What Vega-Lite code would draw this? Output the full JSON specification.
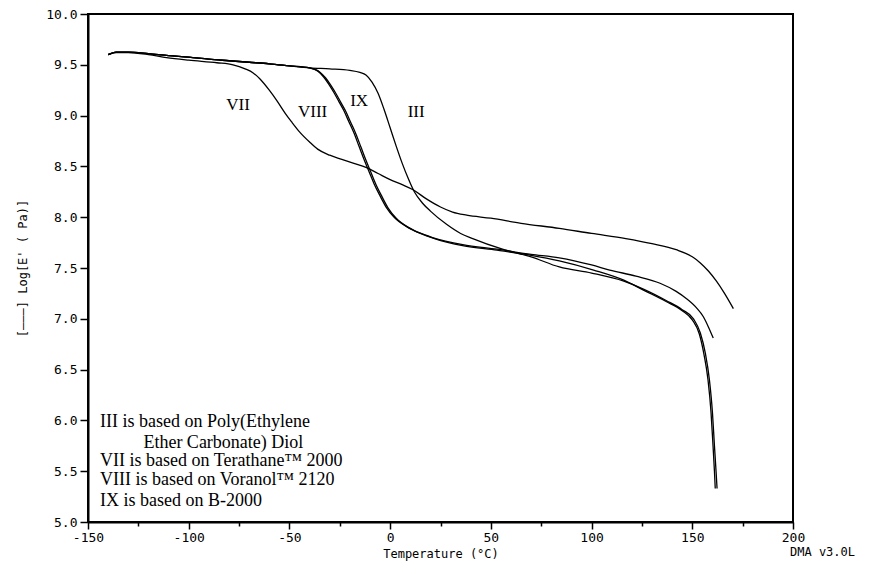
{
  "$schema": "https://vega.github.io/schema/vega-lite/v6.json",
  "width": 705,
  "height": 508,
  "autosize": {"type": "none"},
  "padding": {"left": 88, "top": 14, "right": 86, "bottom": 44},
  "background": "white",
  "config": {
    "view": {"stroke": "black", "strokeWidth": 2},
    "axis": {
      "domainColor": "black", "domainWidth": 2, "tickColor": "black", "tickWidth": 1.5,
      "labelColor": "black", "titleColor": "black", "grid": false,
      "labelFont": "DejaVu Sans Mono", "titleFont": "DejaVu Sans Mono",
      "labelFontSize": 13, "titleFontSize": 12, "titleFontWeight": "normal"
    }
  },
  "datasets": {
    "curves": [
      {"s":"III","t":-140,"v":9.60},{"s":"III","t":-136,"v":9.625},{"s":"III","t":-130,"v":9.625},{"s":"III","t":-120,"v":9.61},{"s":"III","t":-110,"v":9.59},{"s":"III","t":-100,"v":9.575},{"s":"III","t":-90,"v":9.555},{"s":"III","t":-80,"v":9.54},{"s":"III","t":-70,"v":9.525},{"s":"III","t":-60,"v":9.51},{"s":"III","t":-50,"v":9.49},{"s":"III","t":-40,"v":9.47},
      {"s":"III","t":-30,"v":9.46},{"s":"III","t":-20,"v":9.445},{"s":"III","t":-15,"v":9.425},{"s":"III","t":-12,"v":9.40},{"s":"III","t":-9,"v":9.33},{"s":"III","t":-6,"v":9.22},{"s":"III","t":-3,"v":9.06},{"s":"III","t":0,"v":8.88},{"s":"III","t":3,"v":8.70},{"s":"III","t":6,"v":8.53},{"s":"III","t":9,"v":8.38},{"s":"III","t":12,"v":8.25},{"s":"III","t":16,"v":8.14},{"s":"III","t":20,"v":8.06},{"s":"III","t":28,"v":7.93},{"s":"III","t":35,"v":7.84},{"s":"III","t":41,"v":7.79},{"s":"III","t":55,"v":7.69},{"s":"III","t":70,"v":7.61},{"s":"III","t":84,"v":7.51},{"s":"III","t":100,"v":7.45},{"s":"III","t":116,"v":7.37},{"s":"III","t":126,"v":7.29},{"s":"III","t":137,"v":7.18},{"s":"III","t":145,"v":7.09},{"s":"III","t":150.6,"v":7.00},{"s":"III","t":154,"v":6.86},{"s":"III","t":156.5,"v":6.66},{"s":"III","t":158.5,"v":6.40},{"s":"III","t":160,"v":6.08},{"s":"III","t":161,"v":5.75},{"s":"III","t":161.8,"v":5.50},{"s":"III","t":162.3,"v":5.33},

      {"s":"VII","t":-140,"v":9.60},{"s":"VII","t":-136,"v":9.62},{"s":"VII","t":-130,"v":9.62},{"s":"VII","t":-120,"v":9.60},{"s":"VII","t":-111,"v":9.57},{"s":"VII","t":-100,"v":9.545},{"s":"VII","t":-86,"v":9.52},{"s":"VII","t":-78,"v":9.50},{"s":"VII","t":-72,"v":9.46},{"s":"VII","t":-68,"v":9.42},{"s":"VII","t":-64.6,"v":9.36},{"s":"VII","t":-60,"v":9.25},{"s":"VII","t":-56,"v":9.14},{"s":"VII","t":-52,"v":9.02},{"s":"VII","t":-49,"v":8.94},{"s":"VII","t":-45,"v":8.84},{"s":"VII","t":-40,"v":8.74},{"s":"VII","t":-36,"v":8.67},{"s":"VII","t":-30,"v":8.61},{"s":"VII","t":-24,"v":8.57},{"s":"VII","t":-18,"v":8.53},{"s":"VII","t":-12,"v":8.49},{"s":"VII","t":-6,"v":8.43},{"s":"VII","t":0,"v":8.37},{"s":"VII","t":6,"v":8.32},{"s":"VII","t":11.4,"v":8.27},{"s":"VII","t":18,"v":8.18},{"s":"VII","t":25,"v":8.10},{"s":"VII","t":31,"v":8.05},{"s":"VII","t":38,"v":8.02},{"s":"VII","t":50,"v":7.99},{"s":"VII","t":65,"v":7.94},{"s":"VII","t":84,"v":7.89},{"s":"VII","t":100,"v":7.84},{"s":"VII","t":117,"v":7.79},{"s":"VII","t":130,"v":7.74},{"s":"VII","t":142,"v":7.68},{"s":"VII","t":150,"v":7.61},{"s":"VII","t":154,"v":7.55},{"s":"VII","t":158,"v":7.47},{"s":"VII","t":162,"v":7.37},{"s":"VII","t":166,"v":7.25},{"s":"VII","t":170.4,"v":7.10},

      {"s":"VIII","t":-140,"v":9.60},{"s":"VIII","t":-136,"v":9.625},{"s":"VIII","t":-130,"v":9.625},{"s":"VIII","t":-120,"v":9.61},{"s":"VIII","t":-110,"v":9.59},{"s":"VIII","t":-100,"v":9.575},{"s":"VIII","t":-90,"v":9.555},{"s":"VIII","t":-80,"v":9.54},{"s":"VIII","t":-70,"v":9.525},{"s":"VIII","t":-60,"v":9.51},{"s":"VIII","t":-50,"v":9.49},{"s":"VIII","t":-40,"v":9.47},
      {"s":"VIII","t":-36,"v":9.44},{"s":"VIII","t":-33,"v":9.38},{"s":"VIII","t":-30.5,"v":9.31},{"s":"VIII","t":-28,"v":9.23},{"s":"VIII","t":-25.5,"v":9.14},{"s":"VIII","t":-23,"v":9.05},{"s":"VIII","t":-20.5,"v":8.94},{"s":"VIII","t":-18,"v":8.83},{"s":"VIII","t":-15.5,"v":8.70},{"s":"VIII","t":-13,"v":8.57},{"s":"VIII","t":-10.5,"v":8.45},{"s":"VIII","t":-8,"v":8.33},{"s":"VIII","t":-5,"v":8.21},{"s":"VIII","t":-2,"v":8.10},{"s":"VIII","t":2,"v":8.00},{"s":"VIII","t":8,"v":7.91},{"s":"VIII","t":14,"v":7.85},{"s":"VIII","t":21,"v":7.80},{"s":"VIII","t":36,"v":7.73},{"s":"VIII","t":53,"v":7.685},{"s":"VIII","t":70,"v":7.635},{"s":"VIII","t":84,"v":7.60},{"s":"VIII","t":100,"v":7.53},{"s":"VIII","t":109,"v":7.48},{"s":"VIII","t":122,"v":7.42},{"s":"VIII","t":134,"v":7.35},{"s":"VIII","t":142,"v":7.27},{"s":"VIII","t":147,"v":7.20},{"s":"VIII","t":152,"v":7.11},{"s":"VIII","t":155.5,"v":7.02},{"s":"VIII","t":158,"v":6.92},{"s":"VIII","t":160.4,"v":6.81},

      {"s":"IX","t":-140,"v":9.60},{"s":"IX","t":-136,"v":9.625},{"s":"IX","t":-130,"v":9.625},{"s":"IX","t":-120,"v":9.61},{"s":"IX","t":-110,"v":9.59},{"s":"IX","t":-100,"v":9.575},{"s":"IX","t":-90,"v":9.555},{"s":"IX","t":-80,"v":9.54},{"s":"IX","t":-70,"v":9.525},{"s":"IX","t":-60,"v":9.51},{"s":"IX","t":-50,"v":9.49},{"s":"IX","t":-40,"v":9.47},
      {"s":"IX","t":-35,"v":9.43},{"s":"IX","t":-32,"v":9.37},{"s":"IX","t":-29.5,"v":9.30},{"s":"IX","t":-27,"v":9.22},{"s":"IX","t":-24.5,"v":9.13},{"s":"IX","t":-22,"v":9.04},{"s":"IX","t":-19.5,"v":8.93},{"s":"IX","t":-17,"v":8.82},{"s":"IX","t":-14.5,"v":8.69},{"s":"IX","t":-12,"v":8.56},{"s":"IX","t":-9.5,"v":8.44},{"s":"IX","t":-7,"v":8.32},{"s":"IX","t":-4,"v":8.20},{"s":"IX","t":-1,"v":8.09},{"s":"IX","t":3,"v":7.99},{"s":"IX","t":9,"v":7.90},{"s":"IX","t":15,"v":7.84},{"s":"IX","t":22,"v":7.79},{"s":"IX","t":36,"v":7.72},{"s":"IX","t":53,"v":7.675},{"s":"IX","t":70,"v":7.625},{"s":"IX","t":84,"v":7.57},{"s":"IX","t":101,"v":7.48},{"s":"IX","t":116,"v":7.38},{"s":"IX","t":126,"v":7.28},{"s":"IX","t":137,"v":7.17},{"s":"IX","t":145,"v":7.08},{"s":"IX","t":150,"v":6.99},{"s":"IX","t":153.5,"v":6.85},{"s":"IX","t":155.8,"v":6.65},{"s":"IX","t":157.8,"v":6.40},{"s":"IX","t":159.3,"v":6.08},{"s":"IX","t":160.3,"v":5.75},{"s":"IX","t":161,"v":5.50},{"s":"IX","t":161.4,"v":5.33}
    ],
    "curveLabels": [
      {"label":"VII","t":-75.5,"v":9.10},
      {"label":"VIII","t":-38.5,"v":9.04},
      {"label":"IX","t":-15.4,"v":9.14},
      {"label":"III","t":12.9,"v":9.04}
    ],
    "legend": [
      {"label":"III is based on Poly(Ethylene","t":-144,"v":5.98},
      {"label":"Ether Carbonate) Diol","t":-122.5,"v":5.78},
      {"label":"VII is based on Terathane™ 2000","t":-144,"v":5.60},
      {"label":"VIII  is based on Voranol™ 2120","t":-144,"v":5.41},
      {"label":"IX is based on B-2000","t":-144,"v":5.21}
    ],
    "note": [
      {"label":"DMA v3.0L","t":198.5,"v":4.70}
    ]
  },
  "layer": [
    {
      "data": {"name": "curves"},
      "mark": {"type": "line", "color": "black", "strokeWidth": 1.3, "interpolate": "monotone"},
      "encoding": {
        "x": {
          "field": "t", "type": "quantitative",
          "scale": {"domain": [-150, 200], "nice": false, "zero": false},
          "axis": {
            "title": "Temperature (°C)",
            "values": [-150,-125,-100,-75,-50,-25,0,25,50,75,100,125,150,175,200],
            "labelExpr": "datum.value % 50 === 0 ? '' + datum.value : ''",
            "tickSize": {"condition": {"test": "datum.value % 50 !== 0", "value": 4}, "value": 7},
            "labelPadding": 2,
            "titlePadding": 4,
            "labelFlush": false
          }
        },
        "y": {
          "field": "v", "type": "quantitative",
          "scale": {"domain": [5, 10], "nice": false, "zero": false},
          "axis": {
            "title": "[———]  Log[E' ( Pa)]",
            "values": [5,5.25,5.5,5.75,6,6.25,6.5,6.75,7,7.25,7.5,7.75,8,8.25,8.5,8.75,9,9.25,9.5,9.75,10],
            "labelExpr": "abs(round(datum.value*2) - datum.value*2) < 0.01 ? format(datum.value, '.1f') : ''",
            "tickSize": {"condition": {"test": "abs(round(datum.value*2) - datum.value*2) > 0.01", "value": 4}, "value": 8},
            "labelPadding": 3,
            "titlePadding": 16,
            "labelFlush": false
          }
        },
        "detail": {"field": "s"}
      }
    },
    {
      "data": {"name": "curveLabels"},
      "mark": {"type": "text", "font": "Liberation Serif", "fontSize": 17, "color": "black", "align": "center", "baseline": "middle"},
      "encoding": {
        "x": {"field": "t", "type": "quantitative"},
        "y": {"field": "v", "type": "quantitative"},
        "text": {"field": "label"}
      }
    },
    {
      "data": {"name": "legend"},
      "mark": {"type": "text", "font": "Liberation Serif", "fontSize": 18, "color": "black", "align": "left", "baseline": "middle"},
      "encoding": {
        "x": {"field": "t", "type": "quantitative"},
        "y": {"field": "v", "type": "quantitative"},
        "text": {"field": "label"}
      }
    },
    {
      "data": {"name": "note"},
      "mark": {"type": "text", "font": "DejaVu Sans Mono", "fontSize": 12, "color": "black", "align": "left", "baseline": "middle"},
      "encoding": {
        "x": {"field": "t", "type": "quantitative"},
        "y": {"field": "v", "type": "quantitative"},
        "text": {"field": "label"}
      }
    }
  ]
}
